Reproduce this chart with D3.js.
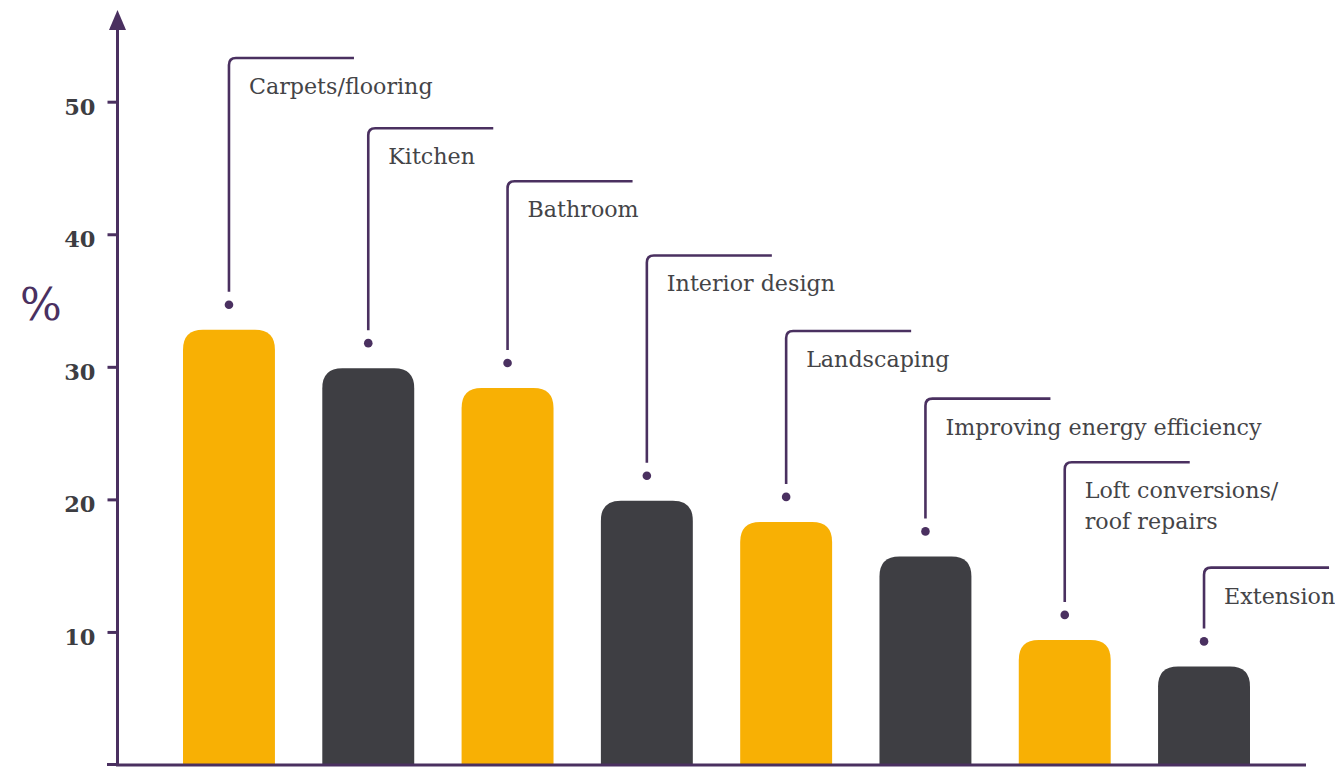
<!DOCTYPE html>
<html>
<head>
<meta charset="utf-8">
<script src="https://cdn.jsdelivr.net/npm/d3@7"></script>
<style>
  html, body { margin: 0; padding: 0; background: #ffffff; }
  svg { display: block; }
</style>
</head>
<body>
<svg id="chart" width="1335" height="767"></svg>
<script>
// Home improvement projects, share of respondents (%)
const categories = [
  "Carpets/flooring",
  "Kitchen",
  "Bathroom",
  "Interior design",
  "Landscaping",
  "Improving energy efficiency",
  "Loft conversions/\nroof repairs",
  "Extension"
];
const values = [32.8, 29.9, 28.4, 19.9, 18.3, 15.7, 9.4, 7.4];
// Height (in % units) at which each callout's label bracket sits
const calloutLevels = [53.3, 48.0, 44.0, 38.4, 32.7, 27.6, 22.8, 14.85];
const yTicks = [10, 20, 30, 40, 50];

const purple = "#4a3060";
const barColors = ["#f8b004", "#3e3e43"];
const textColor = "#444447";

const svg = d3.select("#chart");

const x = d3.scaleBand()
  .domain(categories)
  .range([183, 1250])
  .paddingInner(0.34)
  .paddingOuter(0);

const y = d3.scaleLinear()
  .domain([0, 50])
  .range([764.5, 101.7]);

const axisX = 117.5;

// Bars: rounded top corners, square base
const r = 20;
function barPath(d, i) {
  const x0 = x(categories[i]);
  const w = x.bandwidth();
  const y0 = y(0);
  const yt = y(d);
  return `M${x0},${y0} L${x0},${yt + r} Q${x0},${yt} ${x0 + r},${yt} ` +
         `L${x0 + w - r},${yt} Q${x0 + w},${yt} ${x0 + w},${yt + r} L${x0 + w},${y0} Z`;
}

svg.append("g")
  .selectAll("path")
  .data(values)
  .join("path")
  .attr("d", barPath)
  .attr("fill", (d, i) => barColors[i % 2]);

// Callouts: dot above the bar, leader up to a bracket, label beside it
const callouts = svg.append("g");
const cr = 7;
const armLen = 125;
values.forEach((v, i) => {
  const cx = x(categories[i]) + x.bandwidth() / 2;
  const dotY = y(v) - 25;
  const topY = y(calloutLevels[i]);
  callouts.append("circle")
    .attr("cx", cx).attr("cy", dotY).attr("r", 4.3)
    .attr("fill", purple);
  callouts.append("path")
    .attr("d", `M${cx},${dotY - 13} L${cx},${topY + cr} Q${cx},${topY} ${cx + cr},${topY} L${cx + armLen},${topY}`)
    .attr("fill", "none")
    .attr("stroke", purple)
    .attr("stroke-width", 2.6);
  const lines = categories[i].split("\n");
  const t = callouts.append("text")
    .attr("x", cx + 20)
    .attr("y", topY + 36)
    .attr("fill", textColor)
    .attr("font-family", "'DejaVu Serif', serif")
    .attr("font-size", 22.2);
  lines.forEach((ln, k) => {
    t.append("tspan")
      .attr("x", cx + 20)
      .attr("dy", k === 0 ? 0 : 31)
      .text(ln);
  });
});

// Y axis with ticks
const yAxis = d3.axisLeft(y)
  .tickValues(yTicks)
  .tickSize(10)
  .tickPadding(12)
  .tickFormat(d3.format("d"));

const gy = svg.append("g")
  .attr("transform", `translate(${axisX},0)`)
  .call(yAxis);
gy.select(".domain").remove();
gy.selectAll(".tick line")
  .attr("stroke", purple)
  .attr("stroke-width", 3);
gy.selectAll(".tick text")
  .attr("fill", "#3d3d42")
  .attr("font-family", "'DejaVu Serif', serif")
  .attr("font-weight", "bold")
  .attr("font-size", 22.5)
  .attr("dy", "0.55em");

// Axis lines and arrow head
svg.append("line")
  .attr("x1", axisX).attr("x2", axisX)
  .attr("y1", y(0) + 1.5).attr("y2", 28)
  .attr("stroke", purple).attr("stroke-width", 3);
svg.append("path")
  .attr("d", `M${axisX},10 L${axisX + 8.5},30 L${axisX - 8.5},30 Z`)
  .attr("fill", purple);
svg.append("line")
  .attr("x1", axisX - 1.5).attr("x2", 1306)
  .attr("y1", 765).attr("y2", 765)
  .attr("stroke", purple).attr("stroke-width", 3);
svg.append("line")
  .attr("x1", 107).attr("x2", axisX)
  .attr("y1", 764.5).attr("y2", 764.5)
  .attr("stroke", purple).attr("stroke-width", 3);

// Unit label
svg.append("text")
  .attr("x", 41)
  .attr("y", 320)
  .attr("text-anchor", "middle")
  .attr("fill", purple)
  .attr("font-family", "'DejaVu Serif', serif")
  .attr("font-size", 44)
  .text("%");
</script>
</body>
</html>
